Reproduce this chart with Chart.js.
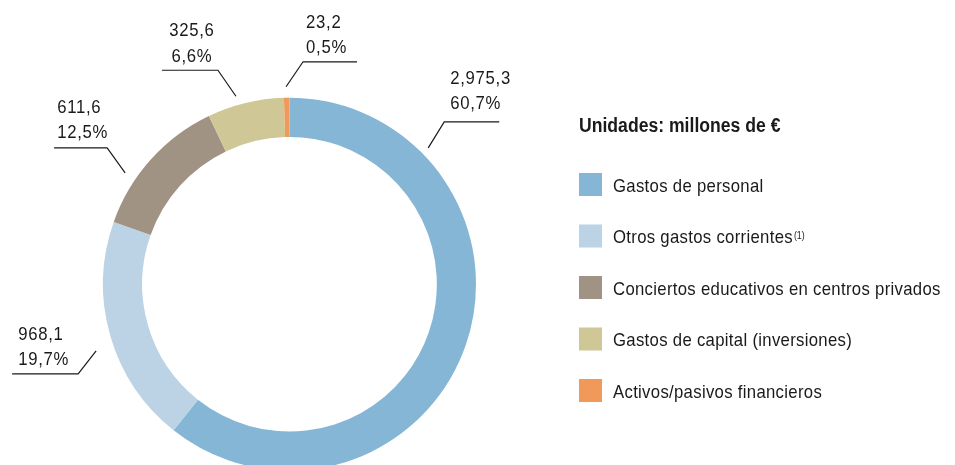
<!DOCTYPE html>
<html lang="es">
<head>
<meta charset="utf-8">
<title>Gastos por capítulos</title>
<script src="https://cdn.jsdelivr.net/npm/chart.js@4.4.1/dist/chart.umd.min.js"></script>
<style>
  html, body { margin: 0; padding: 0; background: #fff; overflow: hidden; }
  #wrap { width: 955px; height: 465px; overflow: hidden; position: relative; }
  canvas { display: block; }
</style>
</head>
<body>
<div id="wrap"><canvas id="chart" width="955" height="471"></canvas></div>
<script>
// Budget breakdown, millions of euros
const categories = [
  'Gastos de personal',
  'Otros gastos corrientes',
  'Conciertos educativos en centros privados',
  'Gastos de capital (inversiones)',
  'Activos/pasivos financieros'
];
const footnotes = ['', '(1)', '', '', ''];
const amounts = [2975.3, 968.1, 611.6, 325.6, 23.2];
const colors = ['#86b6d6', '#bcd3e6', '#a09383', '#cfc896', '#f0995a'];
const unitsTitle = 'Unidades: millones de €';

const FONT = "'Liberation Sans', Arial, sans-serif";
const INK = '#1a1a1a';
const SQUEEZE = 0.88; // horizontal compression for a condensed look

// Callout geometry per slice (same order as the data): where the leader leaves the ring
// (degrees, clockwise from 3 o'clock), the elbow offset, underline length/direction, text placement.
const callouts = [
  { angle: -44.5,  gap: 8,  dx: 16,  dy: -26, len: 55, dir: 1,  align: 'left',   tx: 6, b1: -38, b2: -13 },
  { angle: 161.0,  gap: 18, dx: -18, dy: 23,  len: 66, dir: -1, align: 'left',   tx: 6, b1: -34, b2: -9 },
  { angle: -145.9, gap: 12, dx: -18, dy: -25, len: 53, dir: -1, align: 'left',   tx: 3, b1: -35, b2: -10 },
  { angle: -105.9, gap: 9,  dx: -18, dy: -26, len: 56, dir: -1, align: 'center', tx: 2, b1: -34, b2: -8 },
  { angle: -91.0,  gap: 11, dx: 17,  dy: -25, len: 54, dir: 1,  align: 'left',   tx: 3, b1: -34, b2: -9 }
];

function fmtAmount(v) {
  const [ip, dp] = v.toFixed(1).split('.');
  return ip.replace(/\B(?=(\d{3})+(?!\d))/g, ',') + ',' + dp;
}
function fmtPct(v, total) {
  return (v / total * 100).toFixed(1).replace('.', ',') + '%';
}
function drawText(ctx, text, x, y, align) {
  ctx.save();
  ctx.translate(x, y);
  ctx.scale(SQUEEZE, 1);
  ctx.textAlign = align;
  ctx.fillText(text, 0, 0);
  const w = ctx.measureText(text).width * SQUEEZE;
  ctx.restore();
  return w;
}

const calloutPlugin = {
  id: 'callouts',
  afterDatasetsDraw(chart) {
    const ctx = chart.ctx;
    const meta = chart.getDatasetMeta(0);
    const arc0 = meta.data[0];
    const cx = arc0.x, cy = arc0.y, R = arc0.outerRadius;
    const total = amounts.reduce((a, b) => a + b, 0);
    ctx.save();
    ctx.strokeStyle = INK;
    ctx.fillStyle = INK;
    ctx.lineWidth = 1.2;
    ctx.font = '19px ' + FONT;
    ctx.letterSpacing = '0.8px';
    ctx.textBaseline = 'alphabetic';
    callouts.forEach((c, i) => {
      const a = c.angle * Math.PI / 180;
      const sx = cx + Math.cos(a) * (R + c.gap);
      const sy = cy + Math.sin(a) * (R + c.gap);
      const ex = sx + c.dx, ey = sy + c.dy;
      const ux = ex + c.dir * c.len;
      ctx.beginPath();
      ctx.moveTo(sx, sy);
      ctx.lineTo(ex, ey);
      ctx.lineTo(ux, ey);
      ctx.stroke();
      const left = Math.min(ex, ux);
      let x, align;
      if (c.align === 'center') { align = 'center'; x = (ex + ux) / 2 + c.tx; }
      else { align = 'left'; x = left + c.tx; }
      drawText(ctx, fmtAmount(amounts[i]), x, ey + c.b1, align);
      drawText(ctx, fmtPct(amounts[i], total), x, ey + c.b2, align);
    });
    ctx.restore();
  }
};

const legendPlugin = {
  id: 'sideLegend',
  afterDraw(chart) {
    const ctx = chart.ctx;
    const x0 = 579, box = 23, textX = 613;
    const firstCenter = 184.5, step = 51.5;
    ctx.save();
    ctx.fillStyle = INK;
    ctx.textBaseline = 'alphabetic';
    ctx.letterSpacing = '0px';
    ctx.font = 'bold 20px ' + FONT;
    drawText(ctx, unitsTitle, x0, 131.5, 'left');
    categories.forEach((name, i) => {
      const yc = firstCenter + i * step;
      ctx.fillStyle = colors[i];
      ctx.fillRect(x0, yc - box / 2, box, box);
      ctx.fillStyle = INK;
      ctx.font = '19px ' + FONT;
      ctx.letterSpacing = '0.35px';
      const w = drawText(ctx, name, textX, yc + 7, 'left');
      if (footnotes[i]) {
        ctx.font = '10px ' + FONT;
        ctx.letterSpacing = '0px';
        drawText(ctx, footnotes[i], textX + w + 1, yc + 2.5, 'left');
      }
    });
    ctx.restore();
  }
};

new Chart(document.getElementById('chart'), {
  type: 'doughnut',
  data: {
    labels: categories,
    datasets: [{
      data: amounts,
      backgroundColor: colors,
      borderWidth: 0,
      hoverOffset: 0
    }]
  },
  options: {
    responsive: false,
    animation: false,
    devicePixelRatio: 1,
    cutout: '79%',
    rotation: 0,
    layout: { padding: { left: 103, right: 479, top: 97.5, bottom: 0 } },
    plugins: {
      legend: { display: false },
      tooltip: { enabled: false }
    }
  },
  plugins: [calloutPlugin, legendPlugin]
});
</script>
</body>
</html>
